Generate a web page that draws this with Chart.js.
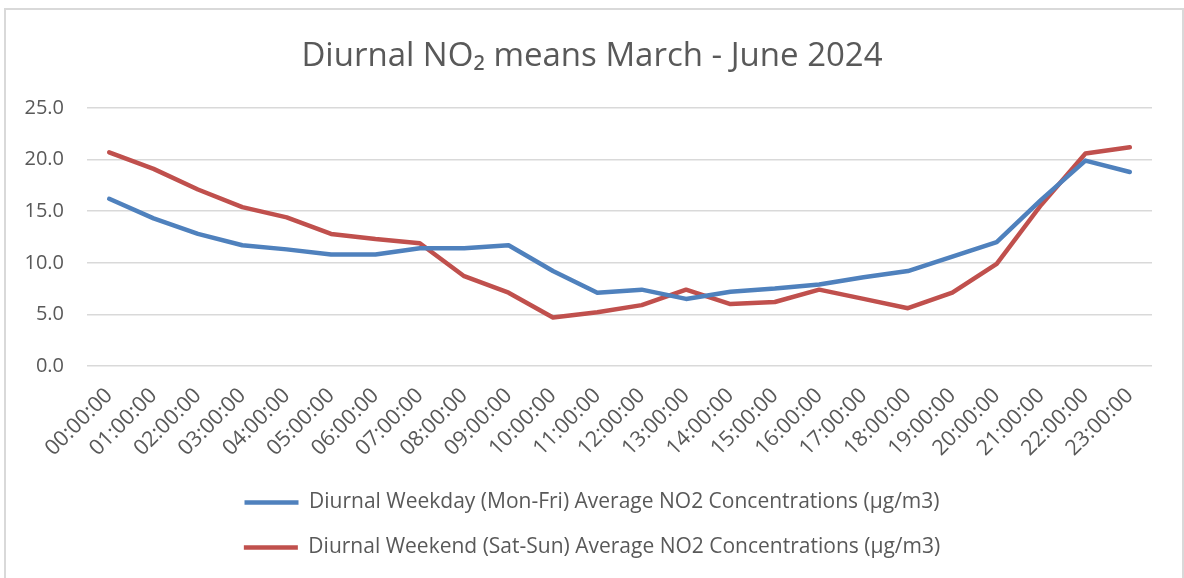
<!DOCTYPE html>
<html>
<head>
<meta charset="utf-8">
<script src="https://cdn.jsdelivr.net/npm/chart.js@4.4.1/dist/chart.umd.min.js"></script>
<style>
  html, body { margin: 0; padding: 0; background: #ffffff; overflow: hidden; }
  #wrap { position: absolute; left: 0; top: 0; width: 1184px; height: 578px; }
  #frame { position: absolute; left: 4px; top: 8px; width: 1176px; height: 600px;
           border-left: 2px solid #d9d9d9; border-top: 2px solid #d9d9d9; border-right: 2px solid #d9d9d9; }
  canvas { position: absolute; left: 0; top: 0; }
</style>
</head>
<body>
<div id="wrap">
  <div id="frame"></div>
  <canvas id="c" width="1184" height="578"></canvas>
</div>
<script>
const hours = ["00:00:00","01:00:00","02:00:00","03:00:00","04:00:00","05:00:00","06:00:00","07:00:00",
               "08:00:00","09:00:00","10:00:00","11:00:00","12:00:00","13:00:00","14:00:00","15:00:00",
               "16:00:00","17:00:00","18:00:00","19:00:00","20:00:00","21:00:00","22:00:00","23:00:00"];
const weekday = [16.2, 14.3, 12.8, 11.7, 11.3, 10.8, 10.8, 11.4, 11.4, 11.7, 9.2, 7.1,
                 7.4, 6.5, 7.2, 7.5, 7.9, 8.6, 9.2, 10.6, 12.0, 16.1, 19.9, 18.8];
const weekend = [20.7, 19.1, 17.1, 15.4, 14.4, 12.8, 12.3, 11.9, 8.7, 7.1, 4.7, 5.2,
                 5.9, 7.4, 6.0, 6.2, 7.4, 6.5, 5.6, 7.1, 9.9, 15.6, 20.6, 21.2];
const seriesNames = ["Diurnal Weekday (Mon-Fri) Average NO2 Concentrations (\u00b5g/m3)",
                     "Diurnal Weekend (Sat-Sun) Average NO2 Concentrations (\u00b5g/m3)"];
const titleText = "Diurnal NO\u2082 means March - June 2024";
const yMin = 0, yMax = 25, yStep = 5;

const FONT = "'Open Sans', 'Noto Sans', sans-serif";
const TXT = "#595959";

new Chart(document.getElementById("c"), {
  type: "line",
  data: {
    labels: hours,
    datasets: [
      { label: seriesNames[0], data: weekday, borderColor: "#4f81bd", backgroundColor: "#4f81bd",
        borderWidth: 4.5, pointRadius: 0, tension: 0, borderCapStyle: "round", borderJoinStyle: "round" },
      { label: seriesNames[1], data: weekend, borderColor: "#c0504d", backgroundColor: "#c0504d",
        borderWidth: 4.5, pointRadius: 0, tension: 0, borderCapStyle: "round", borderJoinStyle: "round" }
    ]
  },
  options: {
    responsive: false,
    animation: false,
    layout: { padding: { top: 8, left: 0, right: 0, bottom: 10 } },
    plugins: {
      tooltip: { enabled: false },
      title: {
        display: true, text: titleText, color: TXT,
        font: { family: FONT, size: 33, weight: "normal", lineHeight: 1.2 },
        padding: { top: 29, bottom: 31.4 }
      },
      legend: {
        position: "bottom",
        labels: {
          color: TXT,
          font: { family: FONT, size: 21 },
          padding: 24,
          usePointStyle: true,
          pointStyle: "line",
          pointStyleWidth: 54,
          boxHeight: 21
        }
      }
    },
    scales: {
      x: {
        type: "category",
        offset: true,
        grid: { display: false, drawTicks: false },
        border: { display: false },
        ticks: { color: TXT, font: { family: FONT, size: 21.5 }, autoSkip: false,
                 minRotation: 45, maxRotation: 45, padding: 17 },
        afterFit(s) { s.height = 102; }
      },
      y: {
        min: yMin, max: yMax,
        grid: { color: "#d9d9d9", lineWidth: 1.5, drawTicks: false },
        border: { display: false },
        ticks: { stepSize: yStep, color: TXT, font: { family: FONT, size: 20 }, padding: 23,
                 callback: v => Number(v).toFixed(1) },
        afterFit(s) { s.width = 87; }
      },
      yRight: {
        position: "right",
        display: true,
        grid: { display: false, drawTicks: false },
        border: { display: false },
        ticks: { display: false },
        afterFit(s) { s.width = 32; }
      }
    }
  }
});
</script>
</body>
</html>
